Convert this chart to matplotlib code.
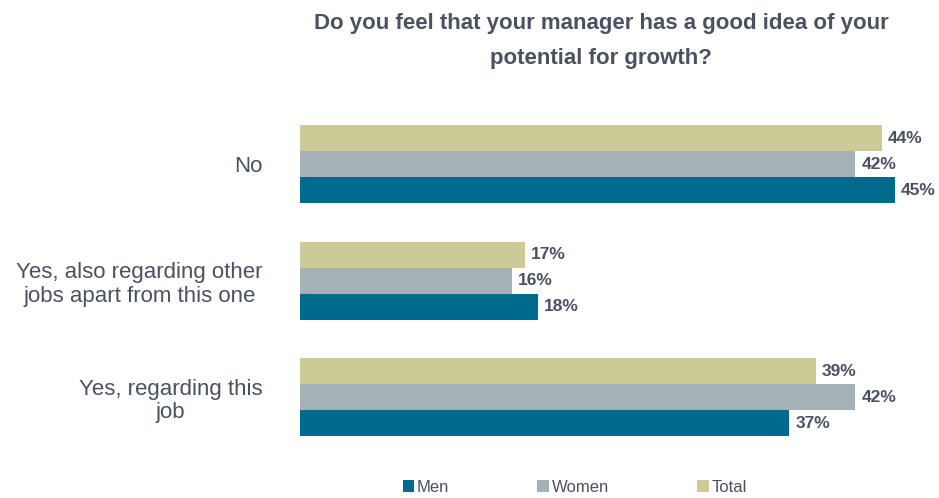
import matplotlib.pyplot as plt
import numpy as np

plt.rcParams['font.family'] = ['Liberation Sans', 'DejaVu Sans']

categories = ['Yes, regarding this\njob', 'Yes, also regarding other\njobs apart from this one', 'No']
men = [37, 18, 45]
women = [42, 16, 42]
total = [39, 17, 44]

c_men = '#006a8e'
c_women = '#a5b0b7'
c_total = '#cdcb95'
txt = '#4a5163'

fig = plt.figure(figsize=(9.39, 4.98), dpi=100)
ax = fig.add_axes([0.3195, 0.062, 0.662, 0.749])

y = np.arange(len(categories))
h = 0.223
series = [(men, c_men, 'Men', -h), (women, c_women, 'Women', 0), (total, c_total, 'Total', h)]
for vals, col, name, off in series:
    bars = ax.barh(y + off, vals, height=h, color=col, label=name)
    for b, v in zip(bars, vals):
        ax.text(b.get_width() + 0.45, b.get_y() + b.get_height() / 2, f'{v}%',
                va='center', ha='left', fontsize=12.5, fontweight='bold', color=txt)

ax.set_xlim(0, 47)
ax.set_ylim(-0.6, 2.6)
ax.set_yticks(y)
ax.set_yticklabels(categories, fontsize=16, color=txt, multialignment='center',
                   linespacing=1.15)
ax.tick_params(axis='y', length=0, pad=27)
ax.set_xticks([])
for s in ax.spines.values():
    s.set_visible(False)

fig.text(0.64, 0.952, 'Do you feel that your manager has a good idea of your',
         ha='center', va='center', fontsize=16, fontweight='bold', color=txt)
fig.text(0.64, 0.882, 'potential for growth?',
         ha='center', va='center', fontsize=16, fontweight='bold', color=txt)

handles, labels = ax.get_legend_handles_labels()
fig.legend(handles, labels, loc='center', bbox_to_anchor=(0.612, 0.022), ncol=3,
           frameon=False, handlelength=0.7, handleheight=0.7, handletextpad=0.15,
           columnspacing=5.3, prop={'size': 12}, labelcolor=txt)

fig.savefig('out.png', dpi=100)
